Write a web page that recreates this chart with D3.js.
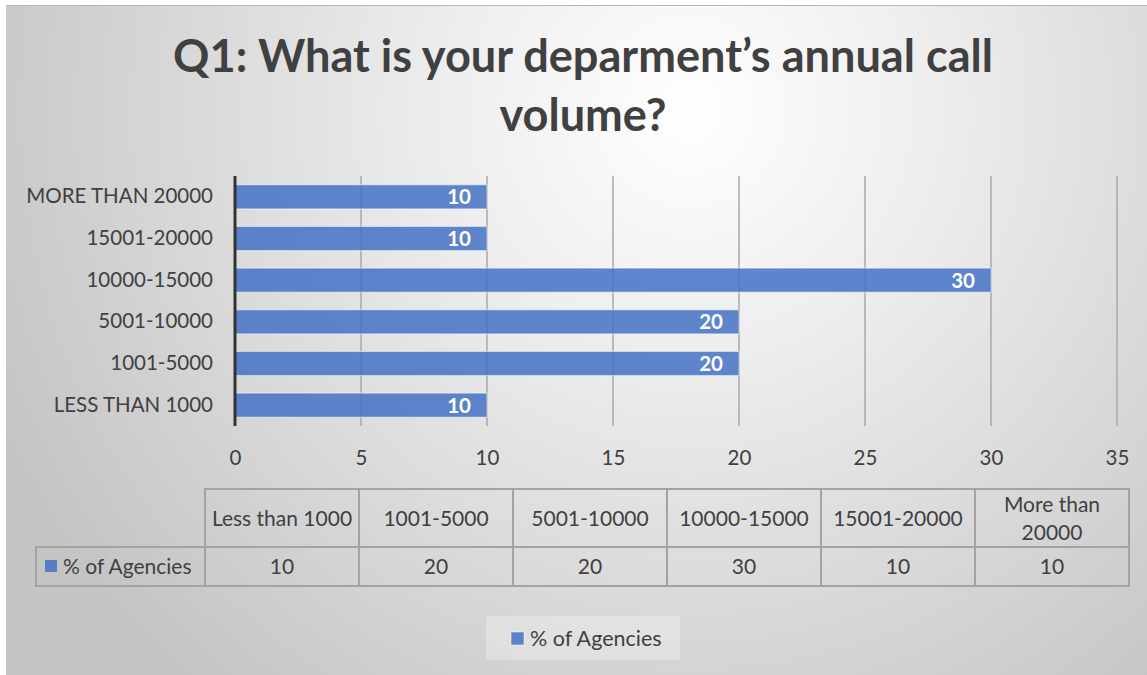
<!DOCTYPE html>
<html>
<head>
<meta charset="utf-8">
<script src="https://cdn.jsdelivr.net/npm/d3@7"></script>
<style>
  html, body { margin: 0; padding: 0; background: #ffffff; }
  svg { display: block; font-family: Lato, "Open Sans", sans-serif; }
</style>
</head>
<body>
<svg id="chart" width="1147" height="675"></svg>
<script>
// Survey answers: share of agencies by annual call volume
const categories = ["Less than 1000", "1001-5000", "5001-10000", "10000-15000", "15001-20000", "More than 20000"];
const agencyShare = [10, 20, 20, 30, 10, 10];
const seriesName = "% of Agencies";
const xTicks = [0, 5, 10, 15, 20, 25, 30, 35];
const titleLines = ["Q1: What is your deparment’s annual call", "volume?"];

const svg = d3.select("#chart");
const W = 1147, H = 675;
const textColor = "#404040";
const barColor = "#4472C4";
const labelSize = 20.5;

// Background panel with a soft radial gradient
const defs = svg.append("defs");
const grad = defs.append("radialGradient")
  .attr("id", "bg").attr("gradientUnits", "userSpaceOnUse")
  .attr("cx", 690).attr("cy", 110).attr("r", 760);
grad.append("stop").attr("offset", "0%").attr("stop-color", "#ffffff");
grad.append("stop").attr("offset", "35%").attr("stop-color", "#ececec");
grad.append("stop").attr("offset", "100%").attr("stop-color", "#c4c4c4");

svg.append("rect").attr("x", 6).attr("y", 5).attr("width", W - 6).attr("height", H - 5)
  .attr("fill", "url(#bg)");
svg.append("line").attr("x1", 6).attr("x2", W).attr("y1", 5.5).attr("y2", 5.5)
  .attr("stroke", "#b8b8b8").attr("stroke-width", 1);

// Title, scaled so the first line spans its set width
const titleG = svg.append("g");
const titleY = [72, 131];
titleLines.forEach((t, i) => {
  titleG.append("text")
    .attr("x", 583).attr("y", titleY[i])
    .attr("text-anchor", "middle")
    .attr("font-weight", 700).attr("font-size", 40)
    .attr("fill", textColor).text(t);
});
const firstLen = titleG.select("text").node().getComputedTextLength();
titleG.selectAll("text").attr("font-size", 40 * 820 / firstLen);

// Plot area
const plot = { left: 235, right: 1117, top: 176, bottom: 426 };
const x = d3.scaleLinear().domain([0, 35]).range([plot.left, plot.right]);
const yOrder = categories.slice().reverse();
const y = d3.scaleBand().domain(yOrder).range([plot.top, plot.bottom]).paddingInner(0.42).paddingOuter(0.21);

// Vertical gridlines
svg.append("g").selectAll("line").data(xTicks.filter(d => d > 0)).join("line")
  .attr("x1", d => x(d)).attr("x2", d => x(d))
  .attr("y1", plot.top).attr("y2", plot.bottom)
  .attr("stroke", "#a9a9a9").attr("stroke-width", 1.5);

// Bars
const rows = categories.map((c, i) => ({ cat: c, v: agencyShare[i] }));
svg.append("g").selectAll("rect").data(rows).join("rect")
  .attr("x", x(0)).attr("y", d => y(d.cat))
  .attr("width", d => x(d.v) - x(0)).attr("height", y.bandwidth())
  .attr("fill", barColor).attr("fill-opacity", 0.85)
  .attr("stroke", "#ffffff").attr("stroke-opacity", 0.5).attr("stroke-width", 1.2);

// Value labels inside bar ends
svg.append("g").selectAll("text").data(rows).join("text")
  .attr("x", d => x(d.v) - 16).attr("y", d => y(d.cat) + y.bandwidth() / 2)
  .attr("dy", "0.36em").attr("text-anchor", "end")
  .attr("font-weight", 700).attr("font-size", 20.5).attr("fill", "#ffffff")
  .text(d => d.v);

// Category axis line
svg.append("line").attr("x1", plot.left).attr("x2", plot.left)
  .attr("y1", plot.top).attr("y2", plot.bottom)
  .attr("stroke", "#333333").attr("stroke-width", 3);

// Category labels
const yAxis = d3.axisLeft(y).tickSize(0).tickPadding(22).tickFormat(d => d.toUpperCase());
const yG = svg.append("g").attr("transform", `translate(${plot.left},0)`).call(yAxis);
yG.select(".domain").remove();
yG.selectAll("text").attr("font-size", labelSize).attr("fill", textColor)
  .attr("font-family", "Lato, 'Open Sans', sans-serif");

// Value axis labels
const xAxis = d3.axisBottom(x).tickValues(xTicks).tickSize(0).tickPadding(0);
const xG = svg.append("g").attr("transform", `translate(0,${plot.bottom + 32})`).call(xAxis);
xG.select(".domain").remove();
xG.selectAll("text").attr("font-size", labelSize).attr("fill", textColor).attr("dy", "0.36em")
  .attr("font-family", "Lato, 'Open Sans', sans-serif");

// Data table below the axis
const table = { left: 205, right: 1129, top: 489, mid: 547, bottom: 586, labelLeft: 36 };
const col = d3.scaleBand().domain(categories).range([table.left, table.right]);
const tg = svg.append("g");
const lineStyle = s => s.attr("stroke", "#a3a3a3").attr("stroke-width", 2).attr("fill", "none");

tg.append("rect").attr("x", table.left).attr("y", table.top)
  .attr("width", table.right - table.left).attr("height", table.bottom - table.top).call(lineStyle);
tg.append("rect").attr("x", table.labelLeft).attr("y", table.mid)
  .attr("width", table.left - table.labelLeft).attr("height", table.bottom - table.mid).call(lineStyle);
tg.append("line").attr("x1", table.left).attr("x2", table.right)
  .attr("y1", table.mid).attr("y2", table.mid).call(lineStyle);
tg.selectAll("line.col").data(categories.slice(1)).join("line").attr("class", "col")
  .attr("x1", d => col(d)).attr("x2", d => col(d))
  .attr("y1", table.top).attr("y2", table.bottom).call(lineStyle);

// Header cells (long labels wrap onto two lines)
categories.forEach(c => {
  const cx = col(c) + col.bandwidth() / 2;
  const t = tg.append("text").attr("x", cx).attr("text-anchor", "middle")
    .attr("font-size", 21).attr("fill", textColor);
  t.text(c);
  if (t.node().getComputedTextLength() > col.bandwidth() - 4) {
    const words = c.split(" ");
    const first = words.slice(0, -1).join(" "), last = words[words.length - 1];
    t.text(null);
    t.append("tspan").attr("x", cx).attr("y", (table.top + table.mid) / 2 - 14).attr("dy", "0.36em").text(first);
    t.append("tspan").attr("x", cx).attr("y", (table.top + table.mid) / 2 + 14).attr("dy", "0.36em").text(last);
  } else {
    t.attr("y", (table.top + table.mid) / 2).attr("dy", "0.36em");
  }
});

// Value cells
tg.selectAll("text.val").data(rows).join("text").attr("class", "val")
  .attr("x", d => col(d.cat) + col.bandwidth() / 2).attr("y", (table.mid + table.bottom) / 2)
  .attr("dy", "0.36em").attr("text-anchor", "middle")
  .attr("font-size", 21).attr("fill", textColor).text(d => d.v);

// Row label with series key
tg.append("rect").attr("x", 45).attr("y", 560).attr("width", 12).attr("height", 12)
  .attr("fill", barColor).attr("fill-opacity", 0.85);
tg.append("text").attr("x", 63).attr("y", (table.mid + table.bottom) / 2).attr("dy", "0.36em")
  .attr("font-size", 21).attr("fill", textColor).text(seriesName);

// Legend
const lg = svg.append("g");
lg.append("rect").attr("x", 486).attr("y", 616).attr("width", 194).attr("height", 44)
  .attr("fill", "#ffffff").attr("fill-opacity", 0.28);
lg.append("rect").attr("x", 511).attr("y", 632).attr("width", 13).attr("height", 13)
  .attr("fill", barColor).attr("fill-opacity", 0.85)
  .attr("stroke", "#ffffff").attr("stroke-opacity", 0.5);
lg.append("text").attr("x", 530).attr("y", 638.5).attr("dy", "0.36em")
  .attr("font-size", 21.5).attr("fill", textColor).text(seriesName);
</script>
</body>
</html>
